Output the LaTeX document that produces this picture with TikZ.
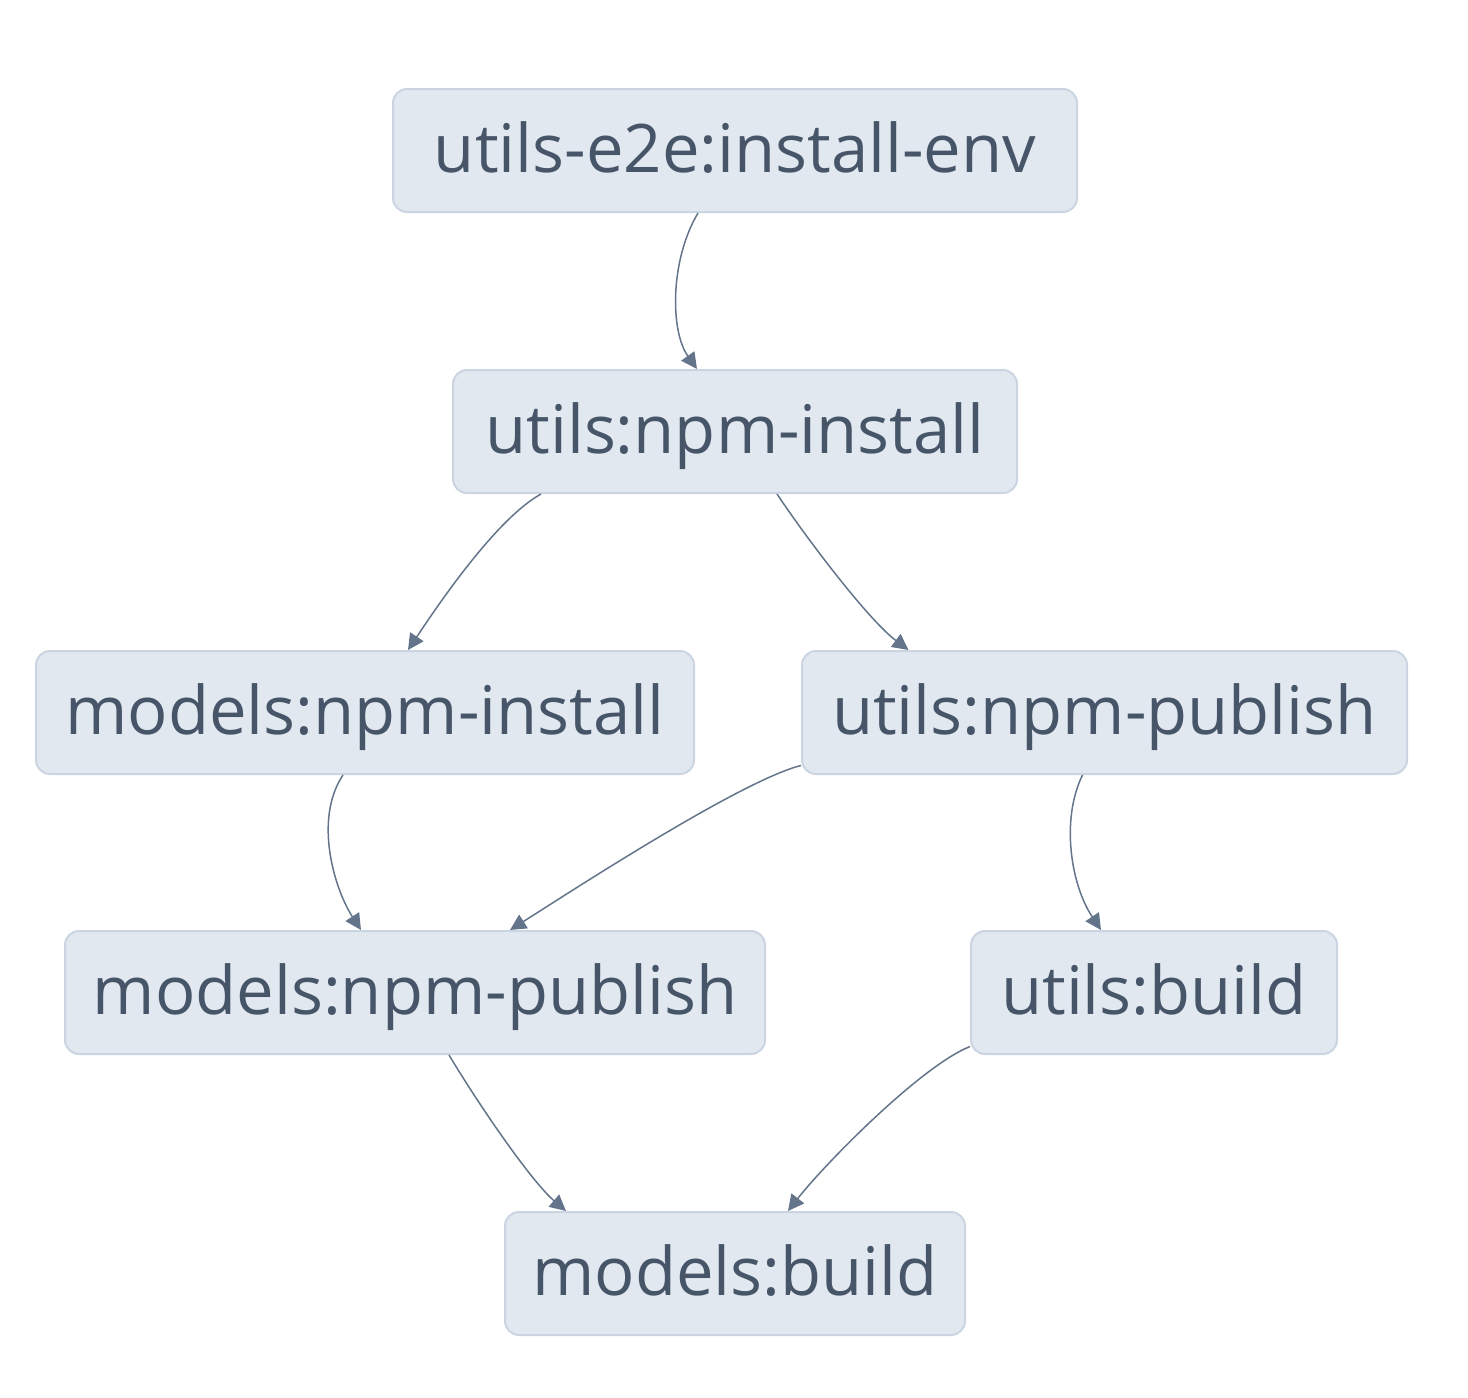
\documentclass[tikz,border=0pt]{standalone}
\usepackage{fontspec}
\setmainfont{Open Sans}
\usetikzlibrary{arrows.meta,positioning}
\definecolor{taskfill}{HTML}{E2E8F0}
\definecolor{taskline}{HTML}{CBD5E1}
\definecolor{tasktext}{HTML}{475569}
\definecolor{edgecol}{HTML}{64748B}
\begin{document}
\begin{tikzpicture}[x=0.5pt, y=-0.5pt,
    task/.style={draw=taskline, line width=1pt, rounded corners=7pt, fill=taskfill, text=tasktext, minimum height=61.5pt, inner sep=0pt, text height=25pt, text depth=3.5pt, font=\fontsize{33.5}{38}\selectfont},
    arr/.style={-{Triangle[length=8pt, width=8pt]}, draw=edgecol, line width=0.75pt}
]
\useasboundingbox (0,0) rectangle (1468,1398);
\node[task, minimum width=342pt] (env) at (735,150.5) {utils-e2e:install-env};
\node[task, minimum width=282pt] (uinst) at (735,431.5) {utils:npm-install};
\node[task, minimum width=329pt] (minst) at (365,712.5) {models:npm-install};
\node[task, minimum width=302.5pt] (upub) at (1104.5,712.5) {utils:npm-publish};
\node[task, minimum width=350pt] (mpub) at (415,992.5) {models:npm-publish};
\node[task, minimum width=183pt] (ubuild) at (1154,992.5) {utils:build};
\node[task, minimum width=230pt] (mbuild) at (735,1273.5) {models:build};

\draw[arr] ([xshift=-18.5pt]env.south) .. controls +(-28,47) and +(-27,-38) .. ([xshift=-19pt]uinst.north);
\draw[arr] ([xshift=-97pt]uinst.south) .. controls +(-45,25) and +(30,-45) .. ([xshift=21.5pt]minst.north);
\draw[arr] ([xshift=21pt]uinst.south) .. controls +(30,45) and +(-40,-30) .. ([xshift=-98pt]upub.north);
\draw[arr] ([xshift=-11pt]minst.south) .. controls +(-30,45) and +(-26,-40) .. ([xshift=-27pt]mpub.north);
\draw[arr] ([yshift=-26.5pt]upub.west) .. controls +(-60,15) and +(60,-38) .. ([xshift=47.5pt]mpub.north);
\draw[arr] ([xshift=-11pt]upub.south) .. controls +(-22,45) and +(-30,-45) .. ([xshift=-26.5pt]ubuild.north);
\draw[arr] ([xshift=17pt]mpub.south) .. controls +(30,50) and +(-35,-30) .. ([xshift=-84.5pt]mbuild.north);
\draw[arr] ([yshift=-27pt]ubuild.west) .. controls +(-50,20) and +(35,-45) .. ([xshift=26.5pt]mbuild.north);
\end{tikzpicture}
\end{document}
